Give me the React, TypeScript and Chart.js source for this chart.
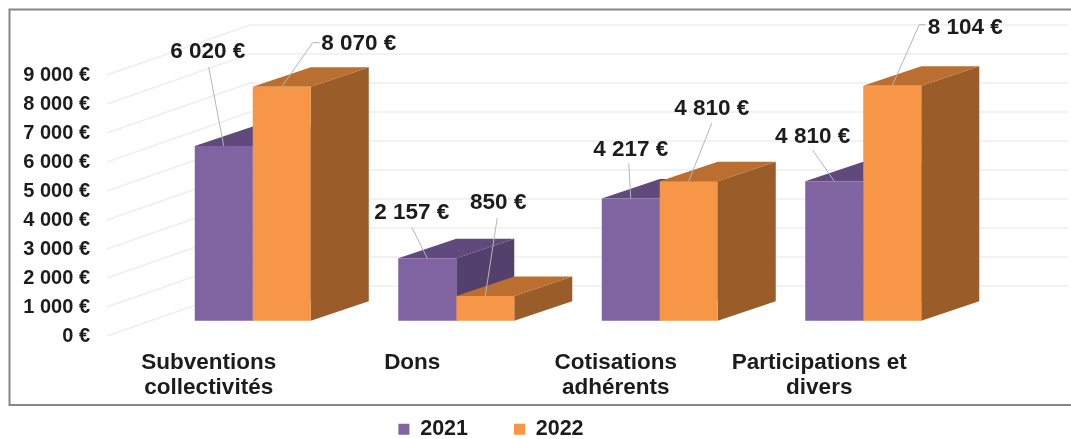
import React, { useEffect, useRef } from "react";
import { Chart, registerables } from "chart.js";

Chart.register(...registerables);

const categories = [["Subventions", "collectivités"], "Dons", ["Cotisations", "adhérents"], ["Participations et", "divers"]];
const seriesNames = ["2021", "2022"];
const values2021 = [6020, 2157, 4217, 4810];
const values2022 = [8070, 850, 4810, 8104];

const FONT = "'Liberation Sans', Arial, sans-serif";
const TEXT = "#1c1c1c";
const frontColors = ["#8064a2", "#f79646"];
const topColors = ["#604a7b", "#ba6e30"];
const sideColors = ["#54406c", "#9a5d2a"];

// Callout geometry relative to the top-centre of each bar: [text centre, then leader points]
const callouts: number[][][][] = [
  [
    [[-16, -94], [-15, -79]],
    [[-15.5, -45], [-15.5, -31]],
    [[0, -49], [-2, -35]],
    [[-21.6, -44], [-21.6, -31]],
  ],
  [
    [[77, -43], [31, -44], [38, -44]],
    [[13, -93], [12, -78]],
    [[23, -72], [23, -58]],
    [[73, -58], [27, -61], [33, -61]],
  ],
];

const DEPTH_X = 58;
const DEPTH_Y = 19.5;
const WALL_X0 = 107;
const WALL_DX = 143;
const WALL_DY = 50;
const WALL_RIGHT = 1068;

const fmt = (v: number) => v.toString().replace(/\B(?=(\d{3})+$)/g, " ") + " €";

const poly = (ctx: CanvasRenderingContext2D, pts: number[][], fill: string) => {
  ctx.beginPath();
  pts.forEach(([x, y], i) => (i ? ctx.lineTo(x, y) : ctx.moveTo(x, y)));
  ctx.closePath();
  ctx.fillStyle = fill;
  ctx.fill();
};

const frame3d = {
  id: "frame3d",
  afterLayout(chart: any) {
    // let the two-line category labels run past the scale box without being clipped
    chart.scales.x.bottom = chart.height;
  },
  beforeDraw(chart: any) {
    const ctx = chart.ctx;
    ctx.save();
    ctx.strokeStyle = "#858585";
    ctx.lineWidth = 2;
    ctx.strokeRect(9.5, 9.5, 1070, 395.5);
    ctx.restore();
  },
  beforeDatasetsDraw(chart: any) {
    const ctx = chart.ctx;
    const yScale = chart.scales.y;
    ctx.save();
    ctx.strokeStyle = "#eeeeee";
    ctx.lineWidth = 1.5;
    yScale.ticks.forEach((t: any) => {
      const y = yScale.getPixelForValue(t.value);
      ctx.beginPath();
      ctx.moveTo(WALL_X0, y);
      ctx.lineTo(WALL_X0 + WALL_DX, y - WALL_DY);
      ctx.lineTo(WALL_RIGHT, y - WALL_DY);
      ctx.stroke();
    });
    categories.forEach((_c, i) => {
      [0, 1].forEach((d) => {
        const bar = chart.getDatasetMeta(d).data[i];
        const l = bar.x - bar.width / 2;
        const r = bar.x + bar.width / 2;
        const t = bar.y;
        const b = bar.base;
        poly(ctx, [[r, t], [r + DEPTH_X, t - DEPTH_Y], [r + DEPTH_X, b - DEPTH_Y], [r, b]], sideColors[d]);
        poly(ctx, [[l, t], [l + DEPTH_X, t - DEPTH_Y], [r + DEPTH_X, t - DEPTH_Y], [r, t]], topColors[d]);
      });
    });
    ctx.restore();
  },
  afterDatasetsDraw(chart: any) {
    const ctx = chart.ctx;
    ctx.save();
    chart.data.datasets.forEach((ds: any, d: number) => {
      chart.getDatasetMeta(d).data.forEach((bar: any, i: number) => {
        const [text, ...leader] = callouts[d][i];
        ctx.strokeStyle = "#b5b5b5";
        ctx.lineWidth = 1;
        ctx.beginPath();
        ctx.moveTo(bar.x, bar.y);
        leader.forEach(([dx, dy]) => ctx.lineTo(bar.x + dx, bar.y + dy));
        ctx.stroke();
        ctx.fillStyle = TEXT;
        ctx.font = `bold 22.5px ${FONT}`;
        ctx.textAlign = "center";
        ctx.textBaseline = "middle";
        ctx.fillText(fmt(ds.data[i]), bar.x + text[0], bar.y + text[1]);
      });
    });
    ctx.restore();
  },
};

export default function App() {
  const ref = useRef<HTMLCanvasElement>(null);
  useEffect(() => {
    const chart = new Chart(ref.current!, {
      type: "bar",
      data: {
        labels: categories,
        datasets: [
          { label: seriesNames[0], data: values2021, backgroundColor: frontColors[0], yAxisID: "yBars" },
          { label: seriesNames[1], data: values2022, backgroundColor: frontColors[1], yAxisID: "yBars" },
        ],
      },
      options: {
        animation: false,
        responsive: false,
        events: [],
        layout: { autoPadding: false, padding: { left: 17, right: 106, top: 75, bottom: -11 } },
        datasets: { bar: { categoryPercentage: 0.57, barPercentage: 1 } },
        plugins: {
          title: { display: false },
          tooltip: { enabled: false },
          legend: {
            position: "bottom",
            labels: {
              boxWidth: 11,
              boxHeight: 11,
              padding: 46,
              color: TEXT,
              font: { family: FONT, size: 21.5, weight: "bold" },
            },
          },
        },
        scales: {
          x: {
            grid: { display: false, drawTicks: false },
            border: { display: false },
            afterFit(s: any) {
              s.height = 439 + 11 - 336 - s.chart.legend.height;
            },
            ticks: {
              autoSkip: false,
              maxRotation: 0,
              minRotation: 0,
              padding: 14,
              labelOffset: -44,
              color: TEXT,
              font: { family: FONT, size: 22.5, weight: "bold", lineHeight: 1.11 },
            },
          },
          y: {
            position: "left",
            min: 0,
            max: 9000,
            grid: { display: false, drawTicks: false },
            border: { display: false },
            afterFit(s: any) {
              s.width = 134;
            },
            ticks: {
              stepSize: 1000,
              padding: 61,
              color: TEXT,
              font: { family: FONT, size: 20, weight: "bold" },
              callback: (v: any) => fmt(Number(v)),
            },
          },
          yBars: {
            display: false,
            position: "left",
            min: -527.6,
            max: 8472,
          },
        },
      },
      plugins: [frame3d],
    } as any);
    return () => chart.destroy();
  }, []);
  return (
    <canvas
      ref={ref}
      width={1071}
      height={439}
      style={{ position: "absolute", left: 0, top: 0, width: 1071, height: 439 }}
    />
  );
}
